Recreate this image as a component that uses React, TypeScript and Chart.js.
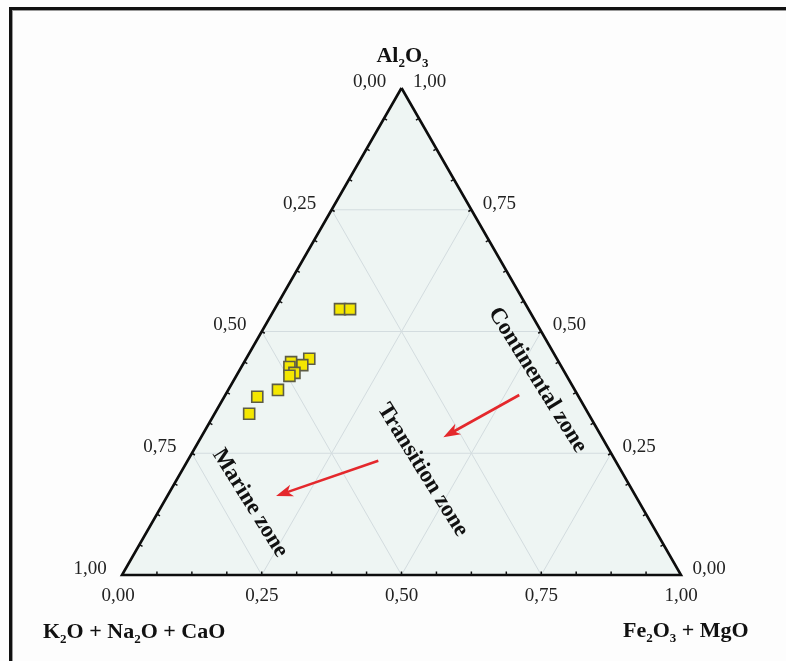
import React, { useEffect, useRef } from "react";
import { Chart, registerables } from "chart.js";

Chart.register(...registerables);

// ---- Data (ternary fractions) ----
const sampleAl2O3 = [0.546, 0.546, 0.444, 0.431, 0.437, 0.427, 0.415, 0.409, 0.38, 0.366, 0.331];
const sampleFe2O3MgO = [0.117, 0.135, 0.113, 0.107, 0.084, 0.086, 0.101, 0.095, 0.089, 0.059, 0.062];
const sampleK2ONa2OCaO = [0.337, 0.319, 0.443, 0.462, 0.479, 0.487, 0.484, 0.496, 0.531, 0.575, 0.607];

const tickValues = [0, 0.25, 0.5, 0.75, 1];
const tickLabels = ["0,00", "0,25", "0,50", "0,75", "1,00"];
const gridLevels = [0.25, 0.5, 0.75];
const minorDivisions = 16;

const zoneNames = ["Continental zone", "Transition zone", "Marine zone"];

// ---- Layout constants ----
const W = 786;
const H = 661;
const PX_X = 559; // pixels per unit along x
const PX_Y = 487; // pixels per unit of triangle height
const ORIGIN_X = 122;
const ORIGIN_Y = 575;
const X_MIN = -ORIGIN_X / PX_X;
const X_MAX = (W - ORIGIN_X) / PX_X;
const Y_MIN = -(H - ORIGIN_Y) / PX_Y;
const Y_MAX = ORIGIN_Y / PX_Y;

const SERIF = "'Liberation Serif', 'Times New Roman', 'DejaVu Serif', serif";

// annotation placement in chart (cartesian) units
const zonePositions = [
  { x: 0.7433, y: 0.4004 },
  { x: 0.5376, y: 0.2156 },
  { x: 0.229, y: 0.1478 },
];
const arrowSegments = [
  { from: { x: 0.7107, y: 0.3696 }, to: { x: 0.5748, y: 0.2828 } },
  { from: { x: 0.4585, y: 0.2347 }, to: { x: 0.2755, y: 0.1622 } },
];

function toXY(k: number, al: number, fe: number) {
  const s = k + al + fe;
  return { x: (fe + al / 2) / s, y: al / s };
}

const TOP = toXY(0, 1, 0);
const LEFT = toXY(1, 0, 0);
const RIGHT = toXY(0, 0, 1);

function drawRich(
  ctx: CanvasRenderingContext2D,
  parts: [string, boolean][],
  x: number,
  y: number,
  size: number,
  align: "left" | "center"
) {
  const main = `bold ${size}px ${SERIF}`;
  const sub = `bold ${Math.round(size * 0.6)}px ${SERIF}`;
  ctx.textAlign = "left";
  ctx.textBaseline = "alphabetic";
  const widths = parts.map(([t, s]) => {
    ctx.font = s ? sub : main;
    return ctx.measureText(t).width;
  });
  const total = widths.reduce((a, b) => a + b, 0);
  let cx = align === "center" ? x - total / 2 : x;
  parts.forEach(([t, s], i) => {
    ctx.font = s ? sub : main;
    ctx.fillText(t, cx, s ? y + size * 0.22 : y);
    cx += widths[i];
  });
}

const overlayPlugin = {
  id: "ternaryOverlay",
  afterDatasetsDraw(chart: any) {
    const ctx: CanvasRenderingContext2D = chart.ctx;
    const xs = chart.scales.x;
    const ys = chart.scales.y;
    const P = (p: { x: number; y: number }) => ({
      x: xs.getPixelForValue(p.x),
      y: ys.getPixelForValue(p.y),
    });
    ctx.save();

    // minor ticks along edges, pointing inward
    const c = P({ x: (TOP.x + LEFT.x + RIGHT.x) / 3, y: (TOP.y + LEFT.y + RIGHT.y) / 3 });
    const edges = [
      [LEFT, RIGHT],
      [RIGHT, TOP],
      [TOP, LEFT],
    ];
    ctx.strokeStyle = "#111";
    ctx.lineWidth = 1.5;
    edges.forEach(([a, b]) => {
      const pa = P(a);
      const pb = P(b);
      const dx = pb.x - pa.x;
      const dy = pb.y - pa.y;
      const len = Math.hypot(dx, dy);
      let nx = -dy / len;
      let ny = dx / len;
      const mx = (pa.x + pb.x) / 2;
      const my = (pa.y + pb.y) / 2;
      if ((c.x - mx) * nx + (c.y - my) * ny < 0) {
        nx = -nx;
        ny = -ny;
      }
      for (let i = 1; i < minorDivisions; i++) {
        const t = i / minorDivisions;
        const px = pa.x + dx * t;
        const py = pa.y + dy * t;
        ctx.beginPath();
        ctx.moveTo(px, py);
        ctx.lineTo(px + nx * 3.5, py + ny * 3.5);
        ctx.stroke();
      }
    });

    // tick labels
    ctx.fillStyle = "#222";
    ctx.font = `19px ${SERIF}`;
    ctx.textAlign = "center";
    ctx.textBaseline = "middle";
    tickValues.forEach((v, i) => {
      // left edge: K2O+Na2O+CaO
      const l = P(toXY(v, 1 - v, 0));
      ctx.fillText(tickLabels[i], l.x - 32, l.y - 6);
      // right edge: Al2O3
      const r = P(toXY(0, v, 1 - v));
      ctx.fillText(tickLabels[i], r.x + 28, r.y - 6);
      // bottom edge: Fe2O3+MgO
      const b = P(toXY(1 - v, 0, v));
      ctx.fillText(tickLabels[i], b.x - (v === 0 ? 4 : 0), b.y + 21);
    });

    // axis titles
    ctx.fillStyle = "#111";
    const top = P(TOP);
    drawRich(ctx, [["Al", false], ["2", true], ["O", false], ["3", true]], top.x + 1, 62, 22, "center");
    drawRich(
      ctx,
      [["K", false], ["2", true], ["O + Na", false], ["2", true], ["O + CaO", false]],
      43,
      638,
      22,
      "left"
    );
    drawRich(ctx, [["Fe", false], ["2", true], ["O", false], ["3", true], [" + MgO", false]], 623, 637, 22, "left");

    // zone labels
    ctx.font = `bold 23px ${SERIF}`;
    ctx.textAlign = "center";
    ctx.textBaseline = "middle";
    zoneNames.forEach((name, i) => {
      const p = P(zonePositions[i]);
      ctx.save();
      ctx.translate(p.x, p.y);
      ctx.rotate((58 * Math.PI) / 180);
      ctx.fillText(name, 0, 0);
      ctx.restore();
    });

    // arrows
    ctx.strokeStyle = "#e4282c";
    ctx.fillStyle = "#e4282c";
    ctx.lineWidth = 2.6;
    arrowSegments.forEach(({ from, to }) => {
      const a = P(from);
      const b = P(to);
      const dx = b.x - a.x;
      const dy = b.y - a.y;
      const len = Math.hypot(dx, dy);
      const ux = dx / len;
      const uy = dy / len;
      const headLen = 17;
      const headHalf = 6;
      ctx.beginPath();
      ctx.moveTo(a.x, a.y);
      ctx.lineTo(b.x - ux * headLen * 0.7, b.y - uy * headLen * 0.7);
      ctx.stroke();
      ctx.beginPath();
      ctx.moveTo(b.x, b.y);
      ctx.lineTo(b.x - ux * headLen - uy * headHalf, b.y - uy * headLen + ux * headHalf);
      ctx.lineTo(b.x - ux * headLen * 0.72, b.y - uy * headLen * 0.72);
      ctx.lineTo(b.x - ux * headLen + uy * headHalf, b.y - uy * headLen - ux * headHalf);
      ctx.closePath();
      ctx.fill();
    });

    ctx.restore();
  },
};

export default function App() {
  const canvasRef = useRef<HTMLCanvasElement | null>(null);

  useEffect(() => {
    if (!canvasRef.current) return;

    const points = sampleAl2O3.map((al, i) => toXY(sampleK2ONa2OCaO[i], al, sampleFe2O3MgO[i]));

    const gridDatasets: any[] = [];
    gridLevels.forEach((v) => {
      // constant Al2O3
      gridDatasets.push([toXY(1 - v, v, 0), toXY(0, v, 1 - v)]);
      // constant Fe2O3+MgO
      gridDatasets.push([toXY(1 - v, 0, v), toXY(0, 1 - v, v)]);
      // constant K2O+Na2O+CaO
      gridDatasets.push([toXY(v, 0, 1 - v), toXY(v, 1 - v, 0)]);
    });

    const chart = new Chart(canvasRef.current, {
      type: "line",
      data: {
        datasets: [
          {
            label: "samples",
            data: points,
            showLine: false,
            pointStyle: "rect",
            pointRadius: 7.8,
            pointBackgroundColor: "#f4e700",
            pointBorderColor: "#5d5c45",
            pointBorderWidth: 1.6,
            order: 1,
            clip: false,
          } as any,
          {
            label: "edges",
            data: [TOP, LEFT, RIGHT, TOP],
            borderColor: "#0d0d0d",
            borderWidth: 2.6,
            borderJoinStyle: "miter",
            pointRadius: 0,
            fill: false,
            order: 2,
          } as any,
          ...gridDatasets.map((d) => ({
            label: "grid",
            data: d,
            borderColor: "#d3dcdf",
            borderWidth: 1,
            pointRadius: 0,
            fill: false,
            order: 3,
          })),
          {
            label: "area",
            data: [TOP, LEFT, RIGHT, TOP],
            borderWidth: 0,
            borderColor: "rgba(0,0,0,0)",
            backgroundColor: "#eef5f3",
            pointRadius: 0,
            fill: "shape",
            order: 4,
          } as any,
        ],
      },
      options: {
        animation: false,
        responsive: false,
        events: [],
        layout: { padding: 0, autoPadding: false } as any,
        plugins: {
          legend: { display: false },
          tooltip: { enabled: false },
        },
        scales: {
          x: { type: "linear", min: X_MIN, max: X_MAX, display: false, bounds: "data" },
          y: { type: "linear", min: Y_MIN, max: Y_MAX, display: false, bounds: "data" },
        },
      },
      plugins: [overlayPlugin],
    });

    return () => chart.destroy();
  }, []);

  return (
    <div
      style={{
        position: "absolute",
        left: 0,
        top: 0,
        width: W,
        height: H,
        background: "#fdfdfd",
        overflow: "hidden",
      }}
    >
      <div
        style={{
          position: "absolute",
          left: 9,
          top: 7,
          right: -20,
          bottom: -20,
          borderLeft: "3px solid #111",
          borderTop: "3px solid #111",
          boxShadow: "inset 1px 1px 0 #9a9a9a",
        }}
      />
      <canvas
        ref={canvasRef}
        width={W}
        height={H}
        style={{ position: "absolute", left: 0, top: 0, width: W, height: H }}
      />
    </div>
  );
}
